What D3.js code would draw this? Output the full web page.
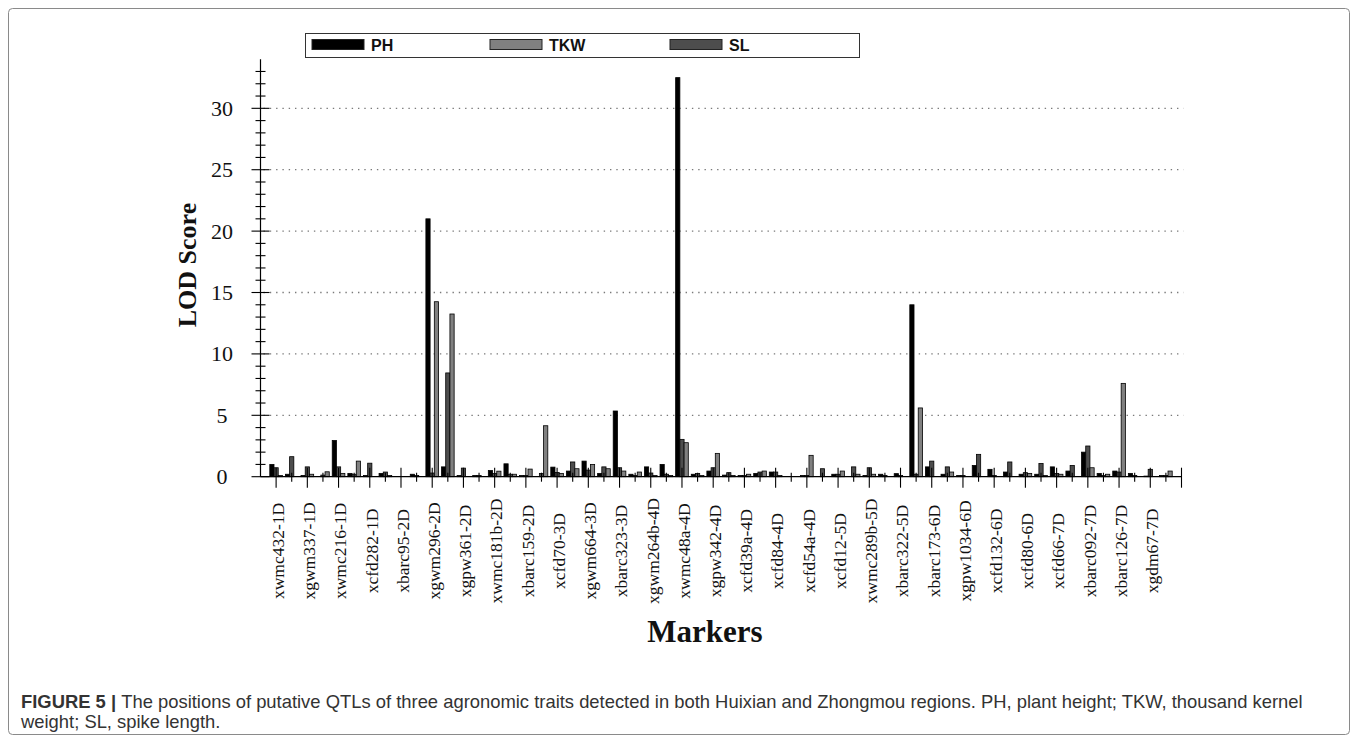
<!DOCTYPE html>
<html><head><meta charset="utf-8">
<script src="https://cdn.jsdelivr.net/npm/d3@7"></script>
<style>body{margin:0;background:#fff}svg{display:block}</style>
</head><body>
<script>
// Labelled markers (every other marker position carries a label)
const labelMarkers = ["xwmc432-1D","xgwm337-1D","xwmc216-1D","xcfd282-1D","xbarc95-2D","xgwm296-2D","xgpw361-2D","xwmc181b-2D","xbarc159-2D","xcfd70-3D","xgwm664-3D","xbarc323-3D","xgwm264b-4D","xwmc48a-4D","xgpw342-4D","xcfd39a-4D","xcfd84-4D","xcfd54a-4D","xcfd12-5D","xwmc289b-5D","xbarc322-5D","xbarc173-6D","xgpw1034-6D","xcfd132-6D","xcfd80-6D","xcfd66-7D","xbarc092-7D","xbarc126-7D","xgdm67-7D"];
const markerCount = 58;
const seriesNames = ["PH","TKW","SL"];
const seriesColors = {PH:"#000000", TKW:"#808080", SL:"#4d4d4d"};
const slotOrder = ["PH","SL","TKW"];
// LOD scores per marker position (1..58)
const PH  = [1.0,0.2,0.1,0,2.95,0.27,0.1,0.27,0,0.2,21.0,0.8,0.1,0.1,0.5,1.05,0.1,0,0.78,0.46,1.27,0.27,5.35,0.2,0.8,1.0,32.5,0.2,0.46,0.13,0.1,0.27,0.38,0,0.1,0,0.2,0,0.1,0.2,0.25,14.0,0.8,0.2,0.1,0.92,0.6,0.38,0.2,0.2,0.8,0.46,2.0,0.27,0.46,0.27,0.05,0.1];
const SL  = [0.73,1.63,0.8,0.13,0.8,0.2,1.1,0.38,0,0.1,0.3,8.45,0.7,0.1,0.27,0.2,0.1,0.27,0.35,1.2,0.54,0.8,0.73,0.1,0.3,0.2,3.04,0.27,0.73,0.33,0.1,0.38,0.38,0,0.1,0.65,0.2,0.8,0.73,0.1,0.1,0.2,1.27,0.8,0.1,1.82,0.1,1.2,0.33,1.08,0.27,0.92,2.5,0.1,0.38,0.1,0.6,0.1];
const TKW = [0.1,0,0.2,0.4,0.27,1.27,0,0.1,0,0,14.25,13.25,0,0,0.45,0.2,0.62,4.15,0.27,0.65,1.0,0.65,0.46,0.38,0.1,0.1,2.77,0.1,1.9,0.1,0.2,0.46,0.1,0,1.74,0,0.46,0.2,0.2,0,0,5.6,0,0.38,0,0,0,0,0.27,0.1,0.2,0,0.73,0.2,7.6,0,0,0.46];
const yTickLabels = [0,5,10,15,20,25,30];
const seriesData = {PH, TKW, SL};

const W = 1358, H = 742;
const svg = d3.select("body").append("svg").attr("width", W).attr("height", H);

// figure frame
svg.append("rect").attr("x",8.5).attr("y",8.5).attr("width",1341).attr("height",726)
  .attr("rx",4).attr("fill","none").attr("stroke","#8a8a8a").attr("stroke-width",1);

const x = d3.scaleLinear().domain([0, markerCount + 1]).range([260.5, 1181.5]);
const y = d3.scaleLinear().domain([0, 34]).range([476.7, 59.2]);
const y0 = y(0);

// dotted grid
svg.append("g").selectAll("line").data(yTickLabels.filter(d => d > 0)).join("line")
  .attr("x1", x(0) + 3).attr("x2", x(markerCount + 1) + 2)
  .attr("y1", d => y(d)).attr("y2", d => y(d))
  .attr("stroke", "#7a7a7a").attr("stroke-width", 1.3).attr("stroke-dasharray", "1.4 4.9");

// bars
const step = x(1) - x(0);
const bw = step * 0.27;
const slot = d3.scaleBand().domain(slotOrder).range([-1.5 * bw, 1.5 * bw]);
const barsG = svg.append("g");
slotOrder.forEach(s => {
  barsG.selectAll(null).data(seriesData[s].map((v, i) => ({v, p: i + 1}))).join("rect")
    .filter(d => d.v > 0)
    .attr("x", d => x(d.p) + slot(s))
    .attr("width", slot.bandwidth())
    .attr("y", d => y(d.v))
    .attr("height", d => y0 - y(d.v))
    .attr("fill", seriesColors[s])
    .attr("stroke", "#000").attr("stroke-width", 0.8);
});

// x axis
const xa = svg.append("g");
xa.append("line").attr("x1", x(0)).attr("x2", x(markerCount + 1)).attr("y1", y0).attr("y2", y0)
  .attr("stroke", "#000").attr("stroke-width", 1.2);
const xTickPos = d3.range(1, markerCount + 2);
xa.selectAll("line.t").data(xTickPos).join("line").attr("class","t")
  .attr("x1", d => x(d)).attr("x2", d => x(d))
  .attr("y1", d => d % 2 ? y0 - 9 : y0 - 4)
  .attr("y2", d => d % 2 ? y0 + 11 : y0 + 5)
  .attr("stroke", "#000").attr("stroke-width", 1.1);
xa.selectAll("text").data(labelMarkers).join("text")
  .attr("transform", (d, i) => `translate(${x(2 * i + 1) + 7.8},551) rotate(-90)`)
  .attr("text-anchor", "middle")
  .attr("font-family", "'Liberation Serif','Times New Roman',serif")
  .attr("font-size", 17.5).attr("fill", "#111").text(d => d);

// y axis
const ya = svg.append("g");
ya.append("line").attr("x1", x(0)).attr("x2", x(0)).attr("y1", y0).attr("y2", y(34))
  .attr("stroke", "#000").attr("stroke-width", 1.2);
ya.selectAll("line.t").data(d3.range(0, 34)).join("line").attr("class","t")
  .attr("y1", d => y(d)).attr("y2", d => y(d))
  .attr("x1", d => d % 5 === 0 ? x(0) - 9 : x(0) - 5)
  .attr("x2", d => d % 5 === 0 ? x(0) + 9 : x(0) + 5)
  .attr("stroke", "#000").attr("stroke-width", 1.1);
ya.selectAll("text").data(yTickLabels).join("text")
  .attr("x", 222).attr("y", d => y(d) + 7.5)
  .attr("text-anchor", "middle")
  .attr("font-family", "'Liberation Serif','Times New Roman',serif")
  .attr("font-size", 22).attr("fill", "#111").text(d => d);

// axis titles
svg.append("text").attr("transform", "translate(196,265) rotate(-90)")
  .attr("text-anchor", "middle").attr("font-family", "'Liberation Serif','Times New Roman',serif")
  .attr("font-weight", "bold").attr("font-size", 26).attr("fill", "#111").text("LOD Score");
svg.append("text").attr("x", 705).attr("y", 642)
  .attr("text-anchor", "middle").attr("font-family", "'Liberation Serif','Times New Roman',serif")
  .attr("font-weight", "bold").attr("font-size", 31).attr("fill", "#111").text("Markers");

// legend
const lg = svg.append("g");
lg.append("rect").attr("x", 305.5).attr("y", 33.5).attr("width", 554).attr("height", 24)
  .attr("fill", "#fff").attr("stroke", "#333").attr("stroke-width", 1);
const legX = {PH: 312, TKW: 490, SL: 670};
seriesNames.forEach(s => {
  lg.append("rect").attr("x", legX[s]).attr("y", 39.5).attr("width", 52).attr("height", 10)
    .attr("fill", seriesColors[s]).attr("stroke", "#222").attr("stroke-width", 1);
  lg.append("text").attr("x", legX[s] + 59).attr("y", 51)
    .attr("font-family", "'Liberation Sans',Arial,sans-serif").attr("font-weight", "bold")
    .attr("font-size", 16).attr("fill", "#111").text(s);
});

// caption
const cap = svg.append("text").attr("font-family", "'Liberation Sans',Arial,sans-serif")
  .attr("font-size", 18.4).attr("fill", "#333");
const l1 = cap.append("tspan").attr("x", 21).attr("y", 708);
l1.append("tspan").attr("font-weight", "bold").text("FIGURE 5 | ");
l1.append("tspan").text("The positions of putative QTLs of three agronomic traits detected in both Huixian and Zhongmou regions. PH, plant height; TKW, thousand kernel");
cap.append("tspan").attr("x", 21).attr("y", 728).text("weight; SL, spike length.");
</script>
</body></html>
